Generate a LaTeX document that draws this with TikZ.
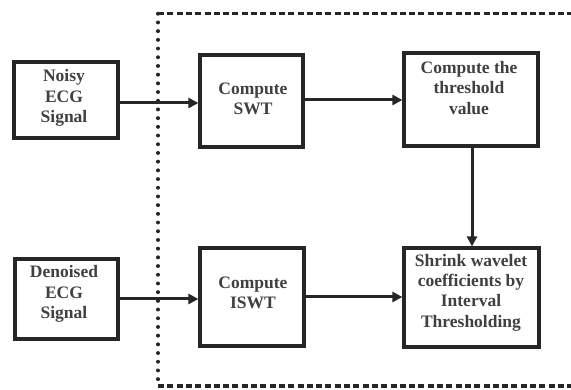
\documentclass[tikz,border=0pt]{standalone}
\usepackage{fontspec}
\setmainfont{Liberation Serif}
\usetikzlibrary{arrows.meta}
\begin{document}
\begin{tikzpicture}[x=1pt,y=-1pt,
  box/.style={draw=black!85,line width=3.2pt,inner sep=0pt,rectangle},
  lbl/.style={align=center,inner sep=0pt,font=\fontsize{17.5}{20.3}\selectfont\bfseries,text=black!75},
  conn/.style={line width=3pt,draw=black!85,-{Triangle[length=10pt,width=10pt]}},
  frameh/.style={line width=3.2pt,draw=black!85,dash pattern=on 6pt off 3.3pt},
  framev/.style={line width=3.4pt,draw=black!85,line cap=round,dash pattern=on 0.5pt off 8.2pt}]
\useasboundingbox (0,0) rectangle (571,390);
\fill[white] (0,0) rectangle (571,390);
% frame
\coordinate (ftl) at (158,13.5);
\coordinate (fbl) at (158,386);
\coordinate (ftr) at (575,13.5);
\coordinate (fbr) at (575,386);
\draw[framev] (ftl) -- (fbl);
\draw[frameh] (ftl) -- (ftr);
\draw[frameh] (fbl) -- (fbr);
% boxes
\node[box,minimum width=104pt,minimum height=76pt] (noisy) at (66,100) {};
\node[box,minimum width=103pt,minimum height=80pt] (den) at (66.5,299) {};
\node[box,minimum width=103pt,minimum height=92pt] (swt) at (251.5,101) {};
\node[box,minimum width=104pt,minimum height=98pt] (iswt) at (252,297) {};
\node[box,minimum width=134pt,minimum height=93pt] (thr) at (471,99.5) {};
\node[box,minimum width=135pt,minimum height=99pt] (shr) at (471.5,297.5) {};
% labels
\node[lbl] (tnoisy) at (64,98) {Noisy\\ECG\\Signal};
\node[lbl] (tden) at (64,294) {Denoised\\ECG\\Signal};
\node[lbl] (tswt) at (253,99) {Compute\\SWT};
\node[lbl] (tiswt) at (253,293) {Compute\\ISWT};
\node[lbl] (tthr) at (469,88) {Compute the\\threshold\\value};
\node[lbl] (tshr) at (471,292.5) {Shrink wavelet\\coefficients by\\Interval\\Thresholding};
% connectors
\draw[conn] (noisy.east) ++(0,3) coordinate (a1) -- (a1 -| swt.west);
\draw[conn] (swt.east) ++(0,-1) coordinate (a2) -- (a2 -| thr.west);
\draw[conn] (thr.south) ++(1,0) coordinate (a3) -- (a3 |- shr.north);
\draw[conn] (den.east) -- (den.east -| iswt.west);
\draw[conn] (iswt.east) -- (iswt.east -| shr.west);
\end{tikzpicture}
\end{document}
